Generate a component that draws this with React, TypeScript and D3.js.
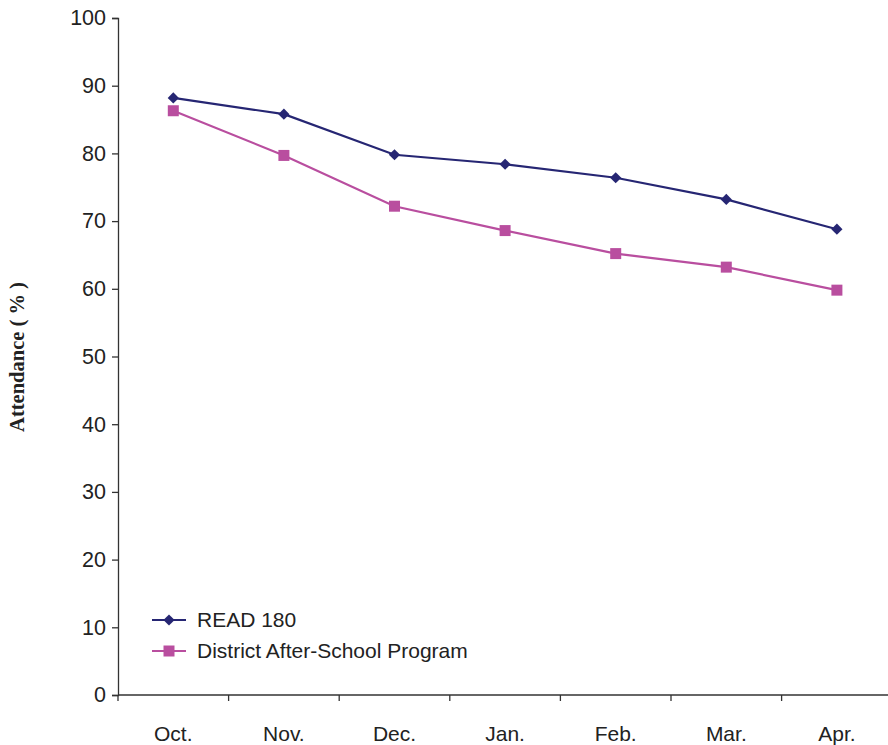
import { useEffect, useRef } from "react";
import * as d3 from "d3";

const months = ["Oct.", "Nov.", "Dec.", "Jan.", "Feb.", "Mar.", "Apr."];
const read180 = [88.2, 85.8, 79.8, 78.4, 76.4, 73.2, 68.8];
const district = [86.3, 79.7, 72.2, 68.6, 65.2, 63.2, 59.8];
const yTicks = [0, 10, 20, 30, 40, 50, 60, 70, 80, 90, 100];

const NAVY = "#262673";
const PINK = "#B94E9F";
const FONT = "'Liberation Sans', Arial, sans-serif";

export default function App() {
  const ref = useRef<SVGSVGElement | null>(null);

  useEffect(() => {
    if (!ref.current) return;
    const svg = d3.select(ref.current);
    svg.selectAll("*").remove();

    const width = 888,
      height = 745;
    const left = 118,
      top = 18,
      bottom = 695;

    const x = d3
      .scaleBand()
      .domain(months)
      .range([left, left + 7 * 110.6])
      .padding(0);
    const y = d3.scaleLinear().domain([0, 100]).range([bottom, top]);

    svg.attr("width", width).attr("height", height);

    // y axis
    const yAxis = svg
      .append("g")
      .attr("transform", `translate(${left},0)`)
      .call(d3.axisLeft(y).tickValues(yTicks).tickSize(6).tickPadding(6));
    yAxis.select(".domain").attr("stroke", "#333").attr("stroke-width", 1.3);
    yAxis.selectAll(".tick line").attr("stroke", "#333").attr("stroke-width", 1.3);
    yAxis
      .selectAll(".tick text")
      .attr("font-family", FONT)
      .attr("font-size", 21.5)
      .attr("fill", "#222");

    // x axis
    const xg = svg.append("g");
    xg.append("line")
      .attr("x1", left)
      .attr("x2", width)
      .attr("y1", bottom)
      .attr("y2", bottom)
      .attr("stroke", "#333")
      .attr("stroke-width", 1.3);
    xg.selectAll("line.tick")
      .data(months)
      .enter()
      .append("line")
      .attr("class", "tick")
      .attr("x1", (d) => x(d)!)
      .attr("x2", (d) => x(d)!)
      .attr("y1", bottom)
      .attr("y2", bottom + 6)
      .attr("stroke", "#333")
      .attr("stroke-width", 1.3);
    xg.selectAll("text")
      .data(months)
      .enter()
      .append("text")
      .attr("x", (d) => x(d)! + x.bandwidth() / 2)
      .attr("y", 741)
      .attr("text-anchor", "middle")
      .attr("font-family", FONT)
      .attr("font-size", 21)
      .attr("fill", "#222")
      .text((d) => d);

    // y title
    svg
      .append("text")
      .attr("transform", `translate(24,357) rotate(-90)`)
      .attr("text-anchor", "middle")
      .attr("font-family", "'Liberation Serif', 'Times New Roman', serif")
      .attr("font-weight", "bold")
      .attr("font-size", 20.5)
      .attr("fill", "#222")
      .text("Attendance ( % )");

    const cx = (i: number) => x(months[i])! + x.bandwidth() / 2;
    const line = d3
      .line<number>()
      .x((_, i) => cx(i))
      .y((d) => y(d));

    const diamond = d3.symbol().type(d3.symbolDiamond2).size(80);
    const square = d3.symbol().type(d3.symbolSquare).size(121);

    const series = [
      { values: district, color: PINK, sym: square, name: "District After-School Program" },
      { values: read180, color: NAVY, sym: diamond, name: "READ 180" },
    ];

    series.forEach((s) => {
      svg
        .append("path")
        .datum(s.values)
        .attr("fill", "none")
        .attr("stroke", s.color)
        .attr("stroke-width", 2.2)
        .attr("d", line);
      svg
        .selectAll(null)
        .data(s.values)
        .enter()
        .append("path")
        .attr("d", s.sym()!)
        .attr("transform", (d, i) => `translate(${cx(i)},${y(d)})`)
        .attr("fill", s.color);
    });

    // legend
    const legend = [series[1], series[0]];
    legend.forEach((s, i) => {
      const ly = 620 + i * 31;
      svg
        .append("line")
        .attr("x1", 152)
        .attr("x2", 186)
        .attr("y1", ly)
        .attr("y2", ly)
        .attr("stroke", s.color)
        .attr("stroke-width", 2);
      svg
        .append("path")
        .attr("d", s.sym()!)
        .attr("transform", `translate(169,${ly})`)
        .attr("fill", s.color);
      svg
        .append("text")
        .attr("x", 197)
        .attr("y", ly)
        .attr("dy", "0.35em")
        .attr("font-family", FONT)
        .attr("font-size", 21)
        .attr("fill", "#222")
        .text(s.name);
    });
  }, []);

  return (
    <div style={{ position: "absolute", left: 0, top: 0 }}>
      <svg ref={ref} style={{ display: "block" }}></svg>
    </div>
  );
}
